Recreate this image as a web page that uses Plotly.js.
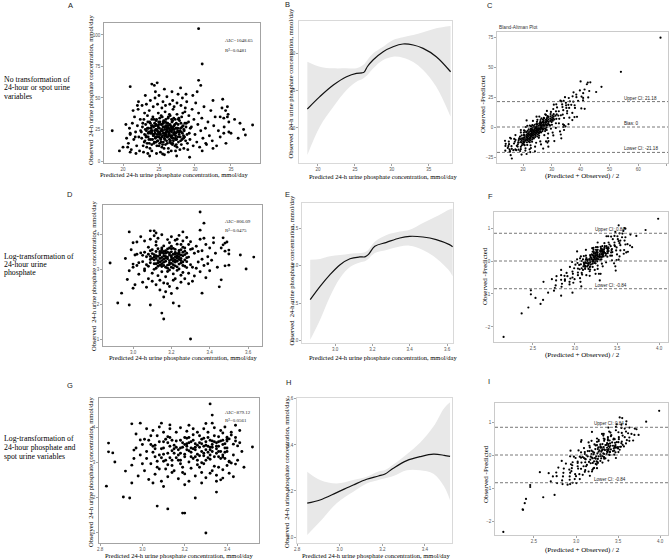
<!DOCTYPE html>
<html>
<head>
<meta charset="utf-8">
<script src="https://cdn.plot.ly/plotly-3.0.1.min.js"></script>
<style>
html,body{margin:0;padding:0;background:#fff;}
#chart{width:669px;height:559px;}
</style>
</head>
<body>
<div id="chart"></div>
<script>
// ---------- Data ----------
// Row 1: untransformed (mmol/day). Pairs are [predicted, observed].
const aPoints = [
  [22.6,18],[22.7,27],[22.8,12],[22.9,33],[23.0,21],[23.05,16],[23.15,29],[23.25,24],[23.3,11],[23.4,36],
  [23.5,19],[23.55,26],[23.65,14],[23.7,31],[23.8,22],[23.85,17],[23.95,28],[24.0,13],[24.05,24],[24.15,35],
  [24.2,20],[24.25,27],[24.35,15],[24.4,30],[24.45,22],[24.5,18],[24.55,25],[24.65,33],[24.7,12],[24.75,21],
  [24.8,28],[24.85,16],[24.9,38],[24.95,23],[25.0,19],[25.05,26],[25.1,14],[25.15,31],[25.2,21],[25.25,17],
  [25.3,29],[25.35,24],[25.4,11],[25.45,35],[25.5,20],[25.55,27],[25.6,15],[25.65,32],[25.7,22],[25.75,18],
  [25.8,25],[25.85,39],[25.9,13],[25.95,28],[26.0,21],[26.05,16],[26.1,30],[26.15,24],[26.2,19],[26.25,34],
  [26.3,10],[26.35,26],[26.4,22],[26.45,17],[26.5,29],[26.55,36],[26.6,20],[26.65,14],[26.7,27],[26.75,23],
  [26.8,31],[26.85,18],[26.9,25],[26.95,41],[27.0,16],[27.05,22],[27.1,28],[27.2,12],[27.25,33],[27.3,20],
  [27.35,26],[27.45,17],[27.5,37],[27.55,23],[27.65,29],[27.7,15],[27.8,21],[27.85,32],[27.95,19],[28.0,26],
  [28.1,13],[28.15,35],[28.25,22],[28.35,28],[28.4,18],[28.5,24],[28.6,39],[28.7,16],[28.8,30],[28.9,21],
  [22.55,23],[22.75,30],[22.95,15],[23.1,25],[23.2,19],[23.35,14],[23.45,31],[23.6,23],[23.75,10],[23.9,26],
  [24.1,17],[24.3,33],[24.3,21],[24.6,29],[24.6,15],[24.75,24],[24.95,31],[25.0,12],[25.15,22],[25.3,36],
  [25.4,19],[25.5,24],[25.6,30],[25.7,10],[25.8,20],[25.95,33],[26.05,25],[26.15,14],[26.25,28],[26.35,20],
  [26.45,37],[26.55,24],[26.65,19],[26.75,33],[26.85,13],[26.95,27],[27.05,34],[27.15,23],[27.3,18],[27.4,30],
  [27.5,11],[27.6,26],[27.75,34],[27.9,24],[28.05,30],[28.2,17],[28.3,38],[28.45,25],[28.55,19],[28.75,27],
  [28.95,14],[29.1,31],[29.2,22],[29.35,26],
  [23.2,20],[23.4,26],[23.6,17],[23.8,30],[24.0,22],[24.1,28],[24.3,14],[24.4,24],[24.5,19],[24.6,32],
  [24.7,25],[24.8,16],[24.9,27],[25.0,21],[25.1,34],[25.2,18],[25.3,24],[25.4,29],[25.5,13],[25.6,22],
  [25.7,27],[25.8,17],[25.9,31],[26.0,23],[26.1,19],[26.2,26],[26.3,35],[26.4,21],[26.5,15],[26.6,28],
  [26.7,24],[26.8,20],[26.9,32],[27.0,18],[27.1,25],[27.2,29],[27.3,22],[27.4,13],[27.5,26],[27.6,19],
  [27.7,33],[27.8,23],[28.0,16],[28.2,27],[28.4,20],[28.6,30],[24.2,21],[24.9,23],[25.4,25],[25.9,20],
  [26.3,23],[26.8,26],[27.3,17],[25.0,29],[25.6,31],[26.2,30],[24.5,28],[23.9,24],[26.6,16],[27.1,21],
  [25.3,15],[26.0,27],[24.7,19],[25.8,22],[26.5,25],[27.6,24],[23.5,22],[28.1,23],[24.0,33],[26.9,14],
  [20.5,18],[20.75,14],[20.9,26],[21.15,9],[21.3,30],[21.5,17],[21.6,35],[21.75,23],[21.9,12],[22.0,28],
  [22.1,41],[22.2,19],[22.3,8],[22.4,33],[22.45,24],[22.65,44],[22.85,7],[23.0,38],[23.25,45],[23.45,6],
  [23.65,40],[23.8,48],[24.0,8],[24.2,43],[24.45,50],[24.65,6],[24.8,45],[25.0,52],[25.2,7],[25.4,42],
  [25.55,47],[25.75,5],[25.9,44],[26.1,51],[26.3,7],[26.5,45],[26.7,8],[26.9,48],[27.1,43],[27.3,8],
  [27.5,46],[27.65,53],[27.9,9],[28.05,44],[28.25,50],[28.45,10],[28.65,42],[28.85,47],[29.0,9],[29.15,36],
  [29.3,17],[29.5,27],[29.6,41],[29.75,12],[29.85,33],[30.0,21],[30.1,46],[30.25,15],[30.4,29],[30.5,38],
  [30.65,11],[30.8,24],[30.95,34],[31.1,18],[31.25,43],[31.45,26],[31.6,13],[31.8,31],[32.0,20],[32.2,40],
  [32.4,16],[32.6,28],[32.8,35],[33.0,12],[33.25,24],[33.5,19],[33.75,42],[34.05,27],[34.3,14],[34.6,37],
  [35.0,22],[35.5,33],[36.0,18],[36.75,25],[29.7,52],[30.3,55],[28.75,53],[26.8,55],[24.5,55],[23.1,52],
  [22.15,47],[21.4,40],[21.8,6],[21.0,21],[20.4,29],[20.65,11],[23.7,4],[27.45,4],[31.0,8],[32.5,10],
  [18.5,24],[19.5,8],[20.0,11],[21.0,59],[21.0,22],[21.0,7],[22.0,44],[21.7,19],[24.0,61],[24.35,60],
  [24.75,62],[25.75,57],[28.0,58],[30.5,105],[31.0,77],[30.5,64],[30.8,60],[32.5,48],[33.85,49],[31.5,14],
  [29.25,3],[25.5,5.5],[34.25,40],[34.5,43],[33.5,35],[34.0,34],[34.5,35],[34.7,31],[36.25,30],[38.0,28.6],
  [34.0,22],[34.7,23],[37.0,20.6]
];

// Row 2: log-transformed 24-h urine phosphate. Pairs are [predicted, observed].
const dPoints = [
  [3.05,3.21],[3.06,3.48],[3.06,2.95],[3.07,3.35],[3.08,3.62],[3.08,3.08],[3.09,3.27],[3.10,2.88],[3.10,3.55],[3.11,3.15],
  [3.11,3.41],[3.12,3.02],[3.12,3.68],[3.13,3.24],[3.13,2.81],[3.14,3.50],[3.14,3.11],[3.15,3.33],[3.15,2.92],[3.15,3.60],
  [3.16,3.19],[3.16,3.44],[3.17,3.05],[3.17,2.78],[3.18,3.29],[3.18,3.57],[3.19,3.13],[3.19,2.97],[3.20,3.38],[3.20,3.65],
  [3.21,3.22],[3.21,2.86],[3.22,3.47],[3.22,3.09],[3.23,3.31],[3.23,3.71],[3.24,3.00],[3.24,3.53],[3.25,3.17],[3.25,3.40],
  [3.26,2.90],[3.26,3.62],[3.27,3.26],[3.28,3.45],[3.28,3.04],[3.29,3.34],[3.30,3.56],[3.30,3.12],
  [3.05,3.39],[3.07,3.12],[3.09,3.52],[3.11,2.99],[3.12,3.30],[3.13,3.58],[3.14,3.20],[3.15,3.07],[3.16,3.66],[3.17,3.36],
  [3.18,2.93],[3.19,3.46],[3.20,3.16],[3.21,3.59],[3.22,3.26],[3.23,2.96],[3.24,3.42],[3.25,3.70],[3.26,3.10],[3.27,3.51],
  [3.28,3.21],[3.29,2.88],[3.14,3.40],[3.16,3.28],[3.18,3.11],[3.20,3.49],[3.22,3.35],[3.12,3.15],[3.10,3.30],[3.19,3.24],
  [3.17,3.52],[3.21,3.03],[3.23,3.44],[3.13,3.36],[3.15,3.47],[3.24,3.27],[3.08,3.42],[3.26,3.38],
  [3.09,3.18],[3.10,3.44],[3.11,3.26],[3.12,3.50],[3.13,3.08],[3.14,3.30],[3.15,3.55],[3.15,3.15],[3.16,3.37],[3.17,3.22],
  [3.17,3.45],[3.18,3.02],[3.18,3.34],[3.19,3.60],[3.19,3.18],[3.20,3.27],[3.20,3.05],[3.21,3.42],[3.21,3.12],[3.22,3.56],
  [3.22,3.20],[3.23,3.37],[3.23,3.06],[3.24,3.48],[3.24,3.14],[3.25,3.30],[3.25,3.55],[3.26,3.20],[3.27,3.41],[3.27,3.08],
  [3.28,3.32],[3.12,3.38],[3.14,3.46],[3.16,3.10],[3.18,3.48],[3.20,3.34],[3.22,3.43],[3.24,3.35],[3.26,3.48],[3.13,3.17],
  [3.15,3.24],[3.17,3.31],[3.19,3.40],[3.21,3.30],[3.23,3.22],[3.11,3.34],[3.16,3.50],[3.20,3.58],[3.25,3.24],[3.09,3.36],
  [2.96,3.30],[2.97,2.70],[2.99,3.55],[3.00,3.05],[3.01,2.55],[3.02,3.42],[3.03,2.85],[3.04,3.92],[3.05,2.62],[3.06,3.80],
  [3.07,2.48],[3.09,3.85],[3.10,2.65],[3.11,3.95],[3.12,2.55],[3.13,3.88],[3.14,2.40],[3.15,3.98],[3.16,2.60],[3.17,2.35],
  [3.18,3.84],[3.19,2.50],[3.20,3.92],[3.21,2.68],[3.22,3.82],[3.23,2.45],[3.24,3.96],[3.25,2.62],[3.26,3.80],[3.27,2.72],
  [3.28,3.90],[3.29,2.58],[3.30,3.78],[3.31,3.05],[3.32,3.45],[3.32,2.80],[3.33,3.65],[3.34,3.20],[3.35,2.92],[3.35,3.85],
  [3.36,3.52],[3.37,3.10],[3.38,3.70],[3.38,2.75],[3.39,3.35],[3.40,3.60],[3.40,2.95],[3.41,3.25],[3.42,3.75],[3.43,3.45],
  [3.44,3.05],[3.31,3.58],[3.33,3.02],[3.34,3.50],[3.36,3.28],[3.37,3.88],[3.39,3.15],[3.29,3.70],[3.27,3.60],[3.06,3.00],
  [3.03,3.18],[3.01,3.40],[2.98,2.95],[3.00,3.75],[3.02,3.10],[3.08,2.72],[3.14,2.68],[3.18,2.58],[3.22,2.72],[3.25,2.82],
  [3.31,2.65],[3.20,2.30],[3.16,2.20],[3.12,3.78],[3.19,3.75],[3.23,3.85],
  [2.88,3.17],[2.92,2.03],[2.94,2.31],[2.98,4.06],[2.98,1.97],[3.00,3.14],[3.00,2.45],[3.02,3.77],[3.04,3.46],[3.09,4.09],
  [3.11,4.09],[3.12,4.03],[3.09,1.97],[3.15,1.74],[3.16,1.57],[3.21,2.03],[3.24,1.94],[3.26,4.06],[3.30,1.00],[3.35,4.63],
  [3.37,4.31],[3.35,4.11],[3.36,2.31],[3.45,2.49],[3.46,2.69],[3.42,3.89],[3.47,3.69],[3.47,3.89],[3.48,3.74],[3.49,3.77],
  [3.46,3.60],[3.48,3.51],[3.50,3.54],[3.50,3.43],[3.56,3.40],[3.63,3.34],[3.48,3.09],[3.50,3.11],[3.59,3.00]
];

// Row 3: log-transformed 24-h phosphate and spot urine variables. Pairs are [predicted, observed].
const gPoints = [
  [3.02,3.30],[3.03,3.62],[3.04,2.95],[3.05,3.45],[3.06,3.15],[3.07,3.75],[3.08,2.80],[3.09,3.38],[3.10,3.58],[3.11,3.05],
  [3.12,3.25],[3.13,3.70],[3.14,2.90],[3.15,3.48],[3.16,3.12],[3.17,3.35],[3.18,3.62],[3.19,2.85],[3.20,3.22],[3.21,3.52],
  [3.22,3.00],[3.23,3.40],[3.24,3.78],[3.25,3.15],[3.26,2.92],[3.27,3.55],[3.28,3.30],[3.29,3.68],[3.30,3.05],[3.31,3.45],
  [3.32,3.20],[3.33,3.60],[3.34,2.88],[3.35,3.38],[3.36,3.72],[3.37,3.10],[3.38,3.50],[3.39,3.28],[3.40,3.65],[3.41,3.02],
  [3.02,3.10],[3.04,3.50],[3.06,3.38],[3.08,3.58],[3.10,3.22],[3.12,2.92],[3.14,3.62],[3.16,3.42],[3.18,3.05],[3.20,3.70],
  [3.22,3.32],[3.24,3.10],[3.26,3.48],[3.28,2.98],[3.30,3.58],[3.32,3.35],[3.34,3.75],[3.36,3.15],[3.38,3.62],[3.40,3.40],
  [3.05,3.28],[3.09,3.12],[3.13,3.45],[3.17,3.20],[3.21,3.68],[3.25,3.42],[3.29,3.18],[3.33,3.50],[3.37,3.30],[3.11,3.65],
  [3.15,3.25],[3.19,3.55],[3.23,3.15],[3.27,3.75],[3.31,3.28],[3.35,3.55],[3.07,3.02],[3.23,3.58],[3.29,3.45],[3.18,3.40],
  [3.26,3.22],[3.14,3.05],[3.32,3.08],[3.21,3.35],[3.36,3.45],
  [3.06,3.48],[3.08,3.20],[3.10,3.40],[3.12,3.55],[3.14,3.32],[3.16,3.60],[3.17,3.05],[3.19,3.42],[3.20,3.15],[3.22,3.55],
  [3.23,3.28],[3.24,3.62],[3.25,3.35],[3.26,3.05],[3.27,3.42],[3.28,3.65],[3.29,3.25],[3.30,3.48],[3.31,3.70],[3.31,3.12],
  [3.32,3.42],[3.33,3.30],[3.34,3.58],[3.34,3.15],[3.35,3.45],[3.36,3.30],[3.37,3.60],[3.38,3.20],[3.39,3.52],[3.40,3.30],
  [3.13,3.12],[3.15,3.38],[3.18,3.25],[3.21,3.45],[3.24,3.38],[3.27,3.18],[3.30,3.35],[3.33,3.42],[3.36,3.58],[3.39,3.10],
  [3.10,3.02],[3.20,3.50],[3.28,3.52],[3.35,3.25],[3.25,3.52],[3.12,3.72],[3.22,3.70],[3.32,3.62],[3.18,2.95],[3.29,2.95],
  [2.96,3.10],[2.97,3.80],[2.98,2.60],[3.00,3.50],[3.01,2.75],[3.02,3.95],[3.03,2.50],[3.05,3.90],[3.06,2.65],[3.08,4.00],
  [3.09,2.45],[3.10,3.85],[3.12,2.58],[3.13,3.95],[3.14,2.70],[3.16,3.85],[3.17,2.52],[3.18,3.98],[3.20,2.66],[3.21,3.88],
  [3.22,2.45],[3.24,3.95],[3.25,2.60],[3.26,3.85],[3.28,2.70],[3.29,3.95],[3.30,2.55],[3.31,3.85],[3.33,2.75],[3.34,3.98],
  [3.35,2.62],[3.37,3.90],[3.38,2.78],[3.39,4.00],[3.41,2.68],[3.42,3.85],[3.43,3.20],[3.44,3.70],[3.45,3.05],[3.46,3.55],
  [3.47,3.30],[3.48,2.85],[2.99,3.20],[3.00,2.95],[3.01,3.65],[2.97,3.40],[3.04,3.75],[3.07,2.85],[3.11,2.80],[3.15,2.75],
  [3.19,2.70],[3.23,2.82],[3.27,2.85],[3.32,2.68],[3.36,2.85],[3.40,2.90],[3.43,2.58],[3.20,2.35],[3.10,2.30],[3.28,2.40],
  [3.05,2.40],[3.35,2.45],[3.46,3.90],[3.44,4.05],[3.30,4.10],[3.22,4.05],
  [2.83,2.31],[2.84,3.54],[2.84,3.29],[2.86,3.26],[2.87,3.00],[2.92,2.74],[2.91,2.00],[2.94,1.97],[2.95,2.91],[2.95,2.40],
  [2.95,4.09],[2.99,4.11],[2.99,3.63],[2.96,3.34],[3.07,1.74],[3.12,1.66],[3.19,1.54],[3.20,1.54],[3.09,4.11],[3.13,4.06],
  [3.30,0.97],[3.32,4.66],[3.33,4.34],[3.33,4.11],[3.25,1.97],[3.35,2.14],[3.37,2.49],[3.42,2.97],[3.41,3.00],[3.38,3.83],
  [3.40,3.71],[3.40,3.60],[3.42,3.77],[3.41,3.66],[3.44,3.60],[3.43,3.51],[3.39,3.40],[3.45,3.46],[3.52,3.43],[3.38,3.14],
  [3.44,2.94],[3.38,2.54]
];

// Restricted cubic spline fits with 95% confidence bands
const bX    = [18.56, 20.25, 22.08, 23.87, 25.21, 25.95, 26.25, 26.7, 27.49, 28.83, 30.17, 31.51, 32.9, 34.24, 36.02, 37.96];
const bFit  = [22.53, 24.18, 25.73, 26.84, 27.29, 27.35, 27.45, 28.2, 29.1, 30.18, 30.84, 31.2, 31.07, 30.62, 29.51, 27.5];
const bLow  = [16.4, 20.18, 22.84, 25.07, 26.18, 26.5, 26.7, 27.07, 27.96, 29.07, 29.51, 29.38, 28.8, 27.73, 25.5, 21.5];
const bHigh = [28.84, 28.18, 27.96, 27.96, 27.96, 28.3, 28.5, 29.07, 29.96, 30.84, 31.73, 32.1, 32.4, 32.76, 33.29, 33.6];

const eX    = [2.867, 2.92, 2.973, 3.027, 3.08, 3.133, 3.16, 3.178, 3.213, 3.276, 3.347, 3.4, 3.471, 3.542, 3.613, 3.63];
const eFit  = [2.547, 2.724, 2.88, 3.013, 3.093, 3.116, 3.118, 3.147, 3.258, 3.311, 3.369, 3.391, 3.382, 3.347, 3.28, 3.253];
const eLow  = [2.013, 2.28, 2.591, 2.836, 2.982, 3.044, 3.06, 3.09, 3.17, 3.21, 3.257, 3.267, 3.21, 3.10, 2.93, 2.86];
const eHigh = [3.08, 3.09, 3.124, 3.142, 3.16, 3.169, 3.18, 3.21, 3.32, 3.41, 3.455, 3.48, 3.57, 3.655, 3.75, 3.76];

const hX    = [2.848, 2.908, 2.986, 3.064, 3.127, 3.182, 3.213, 3.252, 3.315, 3.377, 3.44, 3.49, 3.518];
const hFit  = [3.147, 3.161, 3.193, 3.226, 3.251, 3.265, 3.274, 3.299, 3.332, 3.349, 3.36, 3.355, 3.35];
const hLow  = [3.009, 3.067, 3.147, 3.197, 3.233, 3.248, 3.255, 3.265, 3.29, 3.29, 3.275, 3.22, 3.16];
const hHigh = [3.284, 3.248, 3.233, 3.248, 3.262, 3.285, 3.291, 3.315, 3.36, 3.41, 3.48, 3.56, 3.585];

// Model fit statistics
const aStats = ['AIC=1048.65', 'R²=0.0481'];
const dStats = ['AIC=806.09', 'R²=0.0475'];
const gStats = ['AIC=879.12', 'R²=0.0561'];

// Bland-Altman limits: [upper CI, bias, lower CI]
const cLimits = [21.18, 0, -21.18];
const fLimits = [0.84, 0, -0.84];
const iLimits = [0.84, 0, -0.84];

// Tick labels
const aXTicks = [20, 25, 30, 35];       const aYTicks = [0, 25, 50, 75, 100];
const bXTicks = [20, 25, 30, 35];       const bYTicks = [20, 25, 30];
const cXTicks = [20, 30, 40, 50, 60, 70]; const cYTicks = [-25, 0, 25, 50, 75];
const dXTicks = [3.0, 3.2, 3.4, 3.6];   const dYTicks = [1, 2, 3, 4];
const eXTicks = [3.0, 3.2, 3.4, 3.6];   const eYTicks = [2.0, 2.5, 3.0, 3.5];
const fXTicks = [2.5, 3.0, 3.5, 4.0];   const fYTicks = [-2, -1, 0, 1];
const gXTicks = [2.8, 3.0, 3.2, 3.4];   const gYTicks = [1, 2, 3, 4];
const hXTicks = [2.8, 3.0, 3.2, 3.4];   const hYTicks = [3.0, 3.2, 3.4, 3.6];
const iXTicks = [2.5, 3.0, 3.5, 4.0];   const iYTicks = [-2, -1, 0, 1];

const rowLabels = [
  ['No transformation of', '24-hour or spot urine', 'variables'],
  ['Log-transformation of', '24-hour urine', 'phosphate'],
  ['Log-transformation of', '24-hour phosphate and', 'spot urine variables']
];
const xTitle = 'Predicted 24-h urine phosphate concentration, mmol/day';
const yTitle = 'Observed  24-h urine phosphate concentration, mmol/day';
const baXTitle = '(Predicted + Observed) / 2';
const baYTitle = 'Observed -Predicted';

// ---------- Helpers ----------
const W = 669, H = 559;
const SERIF = 'Liberation Serif, Times New Roman, serif';
const SANS = 'Liberation Sans, Arial, sans-serif';
const px = v => v / W;
const py = v => 1 - v / H;

// Bland-Altman coordinates: mean of the two measures vs their difference
function blandAltman(points) {
  return {
    x: points.map(p => (p[0] + p[1]) / 2),
    y: points.map(p => p[1] - p[0])
  };
}

function axis(domainPx, range, tickvals, fmt, anchor, lineColor, vertical) {
  const dom = vertical ? [py(domainPx[1]), py(domainPx[0])] : [px(domainPx[0]), px(domainPx[1])];
  return {
    domain: dom, range: range, anchor: anchor,
    tickmode: 'array', tickvals: tickvals, tickformat: fmt,
    showgrid: false, zeroline: false,
    showline: true, mirror: true, linecolor: lineColor, linewidth: 0.8,
    ticks: 'outside', ticklen: 2, tickwidth: 0.6, tickcolor: '#666',
    tickfont: {family: SANS, size: 4.5, color: '#555'},
    fixedrange: true
  };
}

function scatterTrace(points, xa, ya, size) {
  return {
    type: 'scatter', mode: 'markers', xaxis: xa, yaxis: ya,
    x: points.map(p => p[0]), y: points.map(p => p[1]),
    marker: {color: '#000', size: size}, hoverinfo: 'skip', showlegend: false
  };
}

function bandTraces(xs, fit, low, high, xa, ya) {
  return [
    {type: 'scatter', mode: 'lines', xaxis: xa, yaxis: ya, x: xs, y: high,
     line: {width: 0, shape: 'spline', smoothing: 1}, hoverinfo: 'skip', showlegend: false},
    {type: 'scatter', mode: 'lines', xaxis: xa, yaxis: ya, x: xs, y: low,
     line: {width: 0, shape: 'spline', smoothing: 1}, fill: 'tonexty', fillcolor: '#e8e8e8',
     hoverinfo: 'skip', showlegend: false},
    {type: 'scatter', mode: 'lines', xaxis: xa, yaxis: ya, x: xs, y: fit,
     line: {width: 1.2, color: '#111', shape: 'spline', smoothing: 1}, hoverinfo: 'skip', showlegend: false}
  ];
}

function baTrace(points, xa, ya) {
  const ba = blandAltman(points);
  return {
    type: 'scatter', mode: 'markers', xaxis: xa, yaxis: ya, x: ba.x, y: ba.y,
    marker: {color: '#000', size: 2.2}, hoverinfo: 'skip', showlegend: false
  };
}

function limitShapes(limits, axisId) {
  return limits.map(v => ({
    type: 'line', xref: 'x' + axisId + ' domain', x0: 0, x1: 1,
    yref: 'y' + axisId, y0: v, y1: v,
    line: {color: '#555', width: 0.8, dash: '3px,2px'}
  }));
}

function text(t, x, y, opts) {
  return Object.assign({
    text: t, x: px(x), y: py(y), xref: 'paper', yref: 'paper',
    showarrow: false, xanchor: 'center', yanchor: 'middle',
    font: {family: SERIF, size: 6.5, color: '#000'}
  }, opts || {});
}

// ---------- Traces ----------
const traces = [
  scatterTrace(aPoints, 'x', 'y', 2.9),
  ...bandTraces(bX, bFit, bLow, bHigh, 'x2', 'y2'),
  baTrace(aPoints, 'x3', 'y3'),
  scatterTrace(dPoints, 'x4', 'y4', 2.9),
  ...bandTraces(eX, eFit, eLow, eHigh, 'x5', 'y5'),
  baTrace(dPoints, 'x6', 'y6'),
  scatterTrace(gPoints, 'x7', 'y7', 2.9),
  ...bandTraces(hX, hFit, hLow, hHigh, 'x8', 'y8'),
  baTrace(gPoints, 'x9', 'y9')
];

// ---------- Annotations ----------
const ann = [];
// row descriptions
const rowY = [[79, 87.5, 96], [256, 264, 272.5], [438, 447, 456]];
rowLabels.forEach((lines, r) => lines.forEach((ln, k) => {
  ann.push(text(ln, 2, rowY[r][k], {xanchor: 'left', font: {family: SERIF, size: 7.8, color: '#000'}}));
}));
// panel letters
[['A', 70, 6], ['B', 287, 5], ['C', 490, 6], ['D', 70, 195], ['E', 287, 195], ['F', 490, 196],
 ['G', 70, 385], ['H', 288, 382], ['I', 489, 381]].forEach(l => {
  ann.push(text(l[0], l[1], l[2], {font: {family: SANS, size: 7.5, color: '#222'}}));
});
// axis titles
const titleFont = {family: SERIF, size: 6.5, color: '#000'};
const baFont = {family: SERIF, size: 7, color: '#000'};
ann.push(text(xTitle, 174, 174.5, {font: titleFont}));
ann.push(text(yTitle, 91, 90, {textangle: -90, font: titleFont}));
ann.push(text(xTitle, 383, 177, {font: titleFont}));
ann.push(text(yTitle, 290.5, 84, {textangle: -90, font: titleFont}));
ann.push(text(baXTitle, 582, 175.5, {font: baFont}));
ann.push(text(baYTitle, 483, 104, {textangle: -90, font: baFont}));
ann.push(text(xTitle, 183, 357.5, {font: titleFont}));
ann.push(text(yTitle, 93, 276, {textangle: -90, font: titleFont}));
ann.push(text(xTitle, 383, 357.5, {font: titleFont}));
ann.push(text(yTitle, 290.5, 271, {textangle: -90, font: titleFont}));
ann.push(text(baXTitle, 582, 355, {font: baFont}));
ann.push(text(baYTitle, 485, 276, {textangle: -90, font: baFont}));
ann.push(text(xTitle, 179, 555.5, {font: titleFont}));
ann.push(text(yTitle, 90, 472, {textangle: -90, font: titleFont}));
ann.push(text(xTitle, 376, 555.5, {font: titleFont}));
ann.push(text(yTitle, 286, 473, {textangle: -90, font: titleFont}));
ann.push(text(baXTitle, 582, 550, {font: baFont}));
ann.push(text(baYTitle, 486, 474, {textangle: -90, font: baFont}));
// fit statistics
const statFont = {family: SERIF, size: 5, color: '#222'};
[[aStats, 40, 50], [dStats, 222, 231], [gStats, 412, 420]].forEach(s => {
  ann.push(text(s[0][0], 223, s[1], {xanchor: 'left', font: statFont}));
  ann.push(text(s[0][1], 223, s[2], {xanchor: 'left', font: statFont}));
});
// Bland-Altman title and limit labels
const baLabelFont = {family: SANS, size: 4.6, color: '#222'};
ann.push(text('Bland-Altman Plot', 497, 28, {xanchor: 'left', font: {family: SANS, size: 4.8, color: '#333'}}));
function limitLabels(limits, axisId, xFrac, withBias) {
  const names = ['Upper CI: ', 'Bias: ', 'Lower CI: '];
  limits.forEach((v, k) => {
    if (k === 1 && !withBias) return;
    ann.push({
      text: names[k] + v, xref: 'x' + axisId + ' domain', yref: 'y' + axisId,
      x: xFrac, y: v, xanchor: 'left', yanchor: 'middle', yshift: 3.5,
      showarrow: false, font: baLabelFont
    });
  });
}
limitLabels(cLimits, 3, 0.73, true);
limitLabels(fLimits, 6, 0.57, false);
limitLabels(iLimits, 9, 0.56, false);

// ---------- Layout ----------
const boxDark = '#8c8c8c', boxLight = '#cfcfcf', boxBA = '#bdbdbd';
const layout = {
  width: W, height: H,
  margin: {l: 0, r: 0, t: 0, b: 0},
  paper_bgcolor: '#fff', plot_bgcolor: '#fff',
  showlegend: false,
  xaxis:  axis([104, 260], [17.36, 39.03], aXTicks, '', 'y', boxDark, false),
  yaxis:  axis([23, 163], [-1.59, 109.5], aYTicks, '', 'x', boxDark, true),
  xaxis2: axis([299, 452], [17.43, 38.15], bXTicks, '', 'y2', boxLight, false),
  yaxis2: axis([21, 163], [15.33, 34.27], bYTicks, '', 'x2', boxLight, true),
  xaxis3: axis([497, 668], [10.97, 70.35], cXTicks, '', 'y3', boxBA, false),
  yaxis3: axis([32, 163], [-30, 79.2], cYTicks, '', 'x3', boxBA, true),
  xaxis4: axis([103, 262], [2.843, 3.673], dXTicks, '.1f', 'y4', boxDark, false),
  yaxis4: axis([205, 346], [0.8, 4.829], dYTicks, '', 'x4', boxDark, true),
  xaxis5: axis([302, 453], [2.823, 3.632], eXTicks, '.1f', 'y5', boxLight, false),
  yaxis5: axis([203, 343], [1.97, 3.835], eYTicks, '.1f', 'x5', boxLight, true),
  xaxis6: axis([494, 668], [2.036, 4.107], fXTicks, '.1f', 'y6', boxBA, false),
  yaxis6: axis([212, 342], [-2.455, 1.485], fYTicks, '', 'x6', boxBA, true),
  xaxis7: axis([99, 259], [2.795, 3.551], gXTicks, '.1f', 'y7', boxDark, false),
  yaxis7: axis([398, 543], [0.686, 4.829], gYTicks, '', 'x7', boxDark, true),
  xaxis8: axis([297, 452], [2.8, 3.527], hXTicks, '.1f', 'y8', boxLight, false),
  yaxis8: axis([398, 543], [2.974, 3.604], hYTicks, '.1f', 'x8', boxLight, true),
  xaxis9: axis([495, 668], [2.036, 4.095], iXTicks, '.1f', 'y9', boxBA, false),
  yaxis9: axis([403, 535], [-2.424, 1.576], iYTicks, '', 'x9', boxBA, true),
  shapes: [].concat(limitShapes(cLimits, 3), limitShapes(fLimits, 6), limitShapes(iLimits, 9)),
  annotations: ann
};

Plotly.newPlot('chart', traces, layout, {displayModeBar: false, staticPlot: true});
</script>
</body>
</html>
